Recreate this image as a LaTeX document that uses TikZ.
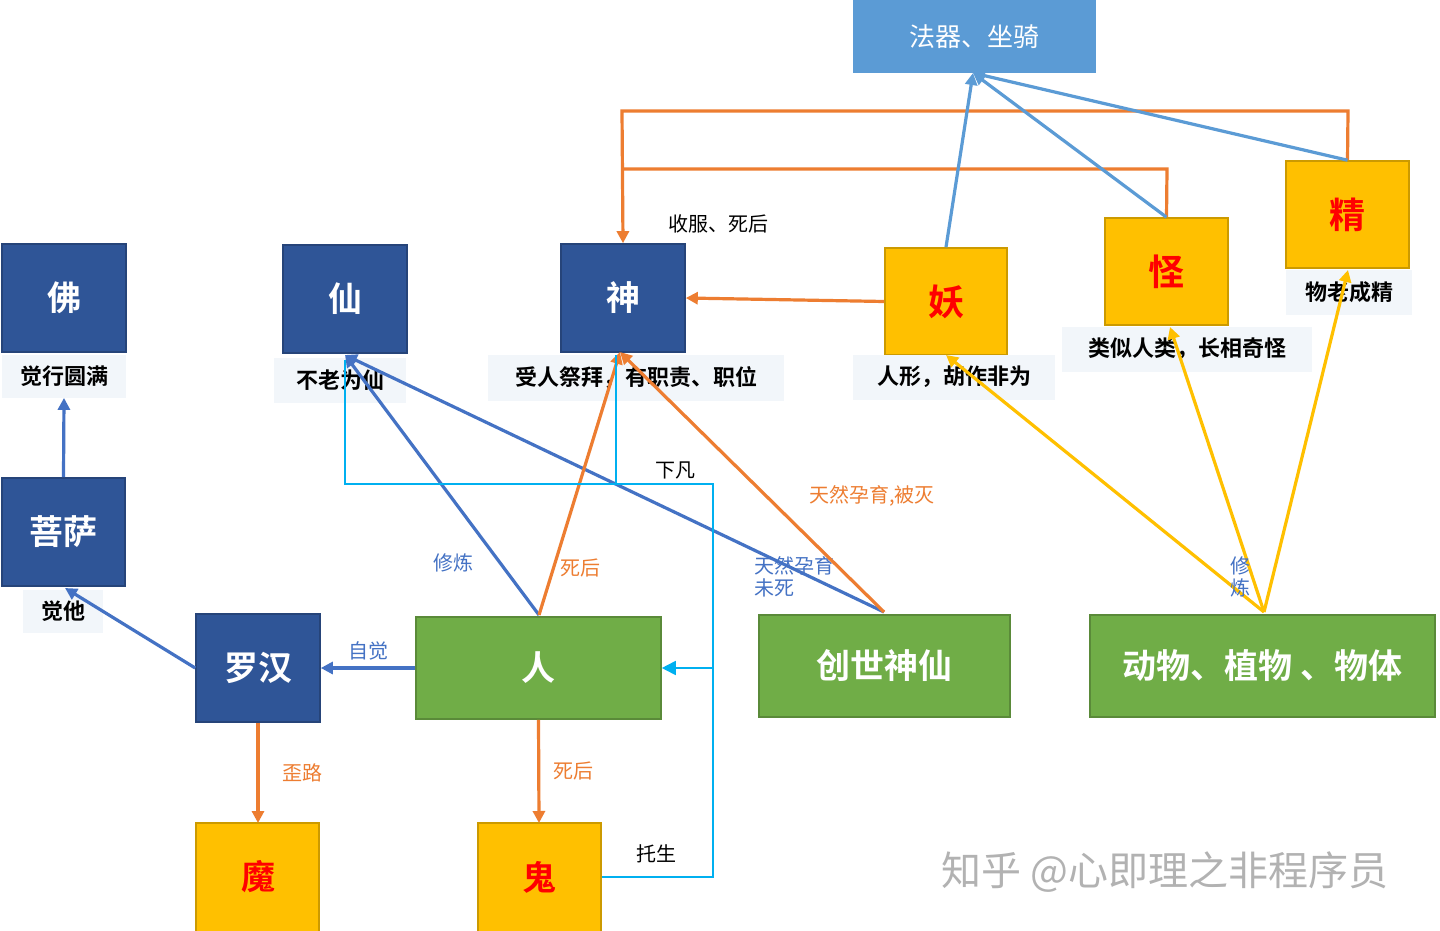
\documentclass[tikz,border=0pt]{standalone}
\usepackage{fontspec}
\setmainfont{Noto Sans CJK SC}
\newfontfamily\cjkb{Noto Sans CJK SC Bold}
\usetikzlibrary{arrows.meta}
\definecolor{dblue}{RGB}{47,85,151}
\definecolor{lblue}{RGB}{91,155,213}
\definecolor{gold}{RGB}{255,192,0}
\definecolor{grn}{RGB}{112,173,71}
\definecolor{org}{RGB}{237,125,49}
\definecolor{eblue}{RGB}{68,114,196}
\definecolor{cyn}{RGB}{0,176,240}
\definecolor{lab}{RGB}{242,246,250}
\definecolor{ylw}{RGB}{255,192,0}
\tikzset{
 box/.style={draw=#1!80!black,fill=#1,line width=0.8pt,inner sep=0pt},
 lbl/.style={fill=lab,inner sep=0pt,font=\cjkb\fontsize{11}{11}\selectfont},
 ar/.style={-{Triangle[length=6pt,width=6pt]},line width=1.6pt},
 el/.style={font=\fontsize{10}{11}\selectfont,align=left},
 bt/.style={white,font=\cjkb\fontsize{17}{17}\selectfont},
 yt/.style={red,font=\cjkb\fontsize{18}{18}\selectfont},
}
\begin{document}
\begin{tikzpicture}[x=0.5pt,y=-0.5pt]
\useasboundingbox (0,0) rectangle (1440,931);
\fill[white] (0,0) rectangle (1440,931);
\newcommand{\bx}[6]{\node[box=#6,minimum width={(#3-#2)*0.5pt},minimum height={(#5-#4)*0.5pt}] (#1) at ({(#2+#3)/2},{(#4+#5)/2}) {};}
\fill[lblue] (853,0) rectangle (1096,73); \node[white,font=\fontsize{13}{13}\selectfont] (fq) at (974,37) {法器、坐骑};
\coordinate (fqb) at (973,73);
\bx{fo}{2}{126}{244}{352}{dblue}\node[bt] at (fo) {佛};
\bx{xian}{283}{407}{245}{353}{dblue}\node[bt] at (xian) {仙};
\bx{shen}{561}{685}{244}{352}{dblue}\node[bt] at (shen) {神};
\bx{yao}{885}{1007}{248}{355}{gold}\node[yt] at (yao) {妖};
\bx{guai}{1105}{1228}{218}{325}{gold}\node[yt] at (guai) {怪};
\bx{jing}{1286}{1409}{161}{268}{gold}\node[yt] at (jing) {精};
\bx{pusa}{2}{125}{478}{586}{dblue}\node[bt] at (pusa) {菩萨};
\bx{lh}{196}{320}{614}{722}{dblue}\node[bt] at (lh) {罗汉};
\bx{ren}{416}{661}{617}{719}{grn}\node[bt] at (ren) {人};
\bx{cs}{759}{1010}{615}{717}{grn}\node[bt] at (cs) {创世神仙};
\bx{dw}{1090}{1435}{615}{717}{grn}\node[bt] at (dw) {动物、植物 、物体};
\bx{mo}{196}{319}{823}{940}{gold}\node[yt,font=\cjkb\fontsize{17}{17}\selectfont] at (258,877) {魔};
\bx{gui}{478}{601}{823}{940}{gold}\node[yt,font=\cjkb\fontsize{17}{17}\selectfont] at (539,877) {鬼};
% labels
\node[lbl,minimum width=62pt,minimum height=21.5pt] (fol) at (64,376) {觉行圆满};
\node[lbl,minimum width=66pt,minimum height=22.5pt] (xl) at (340,380) {不老为仙};
\node[lbl,minimum width=148pt,minimum height=23pt] (sl) at (636,378) {受人祭拜，有职责、职位};
\node[lbl,minimum width=101pt,minimum height=22.5pt] (yl) at (954,377) {人形，胡作非为};
\node[lbl,minimum width=125pt,minimum height=22.5pt] (gl) at (1187,349) {类似人类，长相奇怪};
\node[lbl,minimum width=63pt,minimum height=22.5pt] (jl) at (1349,292) {物老成精};
\node[lbl,minimum width=40pt,minimum height=21.5pt] (pl) at (63,611) {觉他};
% blue edges
\draw[ar,eblue] (pusa.north) -- (fol.south);
\draw[ar,eblue] (lh.west) -- (65,588);
\draw[ar,eblue] (ren.west) -- node[el,above,eblue]{自觉} (lh.east);
\draw[ar,eblue] (539,615) -- (345,355);
\draw[ar,eblue] (884,612) -- (345,355);
\node[el,eblue] at (453,563) {修炼};
\node[el,eblue] at (794,577) {天然孕育\\未死};
% orange edges
\draw[ar,org] (lh.south) -- node[el,right=8pt,org]{歪路} (258,823);
\draw[ar,org] (ren.south) -- node[el,right=3pt,org]{死后} (539,823);
\draw[ar,org] (539,615) -- (620,352);
\node[el,org] at (580,568) {死后};
\draw[ar,org] (884,612) -- (620,352);
\node[el,org] at (872,496) {天然孕育,被灭};
\draw[ar,org] (yao.west) -- (shen.east);
\node[el] at (718,224) {收服、死后};
\draw[ar,org] (jing.north) -- (1348,111) -- (622,111) -- (shen.north);
\draw[org,line width=1.6pt] (guai.north) -- (1167,169) -- (622,169);
% to faqi
\draw[ar,lblue] (yao.north) -- (fqb);
\draw[ar,lblue] (guai.north) -- (fqb);
\draw[ar,lblue] (jing.north) -- (fqb);
% cyan
\draw[cyn,line width=0.9pt] (gui.east |- 0,877) -- (713,877) -- (713,668);
\draw[cyn,line width=0.9pt] (345,360) -- (345,484) -- (713,484) -- (713,668);
\draw[cyn,line width=0.9pt] (616,355) -- (616,484);
\draw[cyn,line width=0.9pt,-{Triangle[length=7pt,width=7pt]}] (713,668) -- (ren.east);
\node[el] at (656,854) {托生};
\node[el] at (675,470) {下凡};
% yellow
\draw[ar,ylw] (1264,612) -- (946,355);
\draw[ar,ylw] (1264,612) -- (1170,327);
\draw[ar,ylw] (1264,612) -- (1348,270);
\node[el,eblue,align=center] at (1240,577) {修\\炼};
% watermark
\node[gray!60,font=\fontsize{20}{20}\selectfont] at (1165,872) {知乎 @心即理之非程序员};
\end{tikzpicture}
\end{document}
